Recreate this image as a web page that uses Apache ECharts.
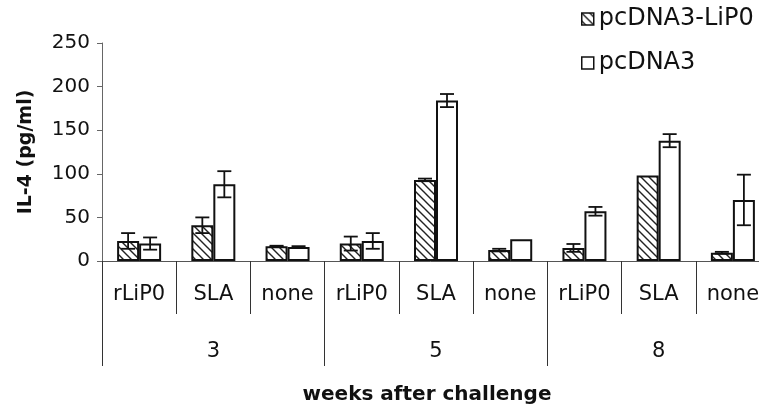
<!DOCTYPE html>
<html>
<head>
<meta charset="utf-8">
<script src="https://cdn.jsdelivr.net/npm/echarts@6/dist/echarts.min.js"></script>
<style>
html,body{margin:0;padding:0;background:#fff;overflow:hidden;}
#chart{width:759px;height:408px;}
</style>
</head>
<body>
<div id="chart"></div>
<script>
// ---- data ----
const subCategories = ['rLiP0', 'SLA', 'none', 'rLiP0', 'SLA', 'none', 'rLiP0', 'SLA', 'none'];
const weekLabels = ['3', '5', '8'];
const seriesNames = ['pcDNA3-LiP0', 'pcDNA3'];
const liP0Values = [23, 41, 17, 20, 93, 12.5, 15, 98, 9.5];
const liP0Errors = [9, 9, 0.5, 8, 1.5, 1.5, 4.5, 0, 1];
const pcValues = [20, 88, 16, 23, 184, 25, 57, 138, 70];
const pcErrors = [7, 15, 1, 9, 7.5, 0, 5, 7.5, 29];
const yMin = 0, yMax = 250, yStep = 50;

// ---- styling ----
const FONT = 'DejaVu Sans';
const INK = '#111';
const BAR_W = 22;

function hatchPattern() {
  const s = 8;
  const c = document.createElement('canvas');
  c.width = s; c.height = s;
  const g = c.getContext('2d');
  g.fillStyle = '#fff';
  g.fillRect(0, 0, s, s);
  g.strokeStyle = '#222';
  g.lineWidth = 1.4;
  g.beginPath();
  g.moveTo(-1, -1); g.lineTo(s + 1, s + 1);
  g.moveTo(-s - 1, -1); g.lineTo(1, s + 1);
  g.moveTo(s - 1, -1); g.lineTo(2 * s + 1, s + 1);
  g.stroke();
  return c;
}
const hatchFill = { image: hatchPattern(), repeat: 'repeat' };

function errData(vals, errs) {
  return vals.map((v, i) => [i, v, errs[i]]);
}
function errRenderer(sign) {
  return function (params, api) {
    const i = api.value(0), v = api.value(1), e = api.value(2);
    if (!e) return null;
    const top = api.coord([i, v + e]);
    const bot = api.coord([i, v - e]);
    const x = top[0] + sign * BAR_W / 2;
    const cap = 7;
    const st = { stroke: INK, lineWidth: 1.8 };
    return {
      type: 'group',
      children: [
        { type: 'line', shape: { x1: x, y1: top[1], x2: x, y2: bot[1] }, style: st },
        { type: 'line', shape: { x1: x - cap, y1: top[1], x2: x + cap, y2: top[1] }, style: st },
        { type: 'line', shape: { x1: x - cap, y1: bot[1], x2: x + cap, y2: bot[1] }, style: st }
      ]
    };
  };
}

const chart = echarts.init(document.getElementById('chart'), null, { renderer: 'canvas' });
chart.setOption({
  animation: false,
  backgroundColor: '#fff',
  textStyle: { fontFamily: FONT, color: INK },
  grid: { left: 102, top: 43, width: 668, height: 218, outerBoundsMode: 'none', containLabel: false },
  legend: {
    orient: 'vertical',
    left: 581,
    top: 7,
    padding: 0,
    itemWidth: 12,
    itemHeight: 12,
    itemGap: 20,
    icon: 'rect',
    textStyle: { fontFamily: FONT, fontSize: 24, color: INK },
    data: [
      { name: seriesNames[0], itemStyle: { color: hatchFill, borderColor: INK, borderWidth: 1.5 } },
      { name: seriesNames[1], itemStyle: { color: '#fff', borderColor: INK, borderWidth: 1.5 } }
    ]
  },
  xAxis: [
    {
      type: 'category',
      data: subCategories,
      position: 'bottom',
      axisLine: { show: true, lineStyle: { color: '#555', width: 1 } },
      axisTick: { show: true, interval: 0, length: 53, lineStyle: { color: '#333', width: 1 } },
      axisLabel: { interval: 0, margin: 23, fontFamily: FONT, fontSize: 21, color: INK }
    },
    {
      type: 'category',
      data: weekLabels,
      position: 'bottom',
      axisLine: { show: false },
      axisTick: { show: true, interval: 0, length: 105, lineStyle: { color: '#333', width: 1 } },
      axisLabel: { interval: 0, margin: 80, fontFamily: FONT, fontSize: 21, color: INK },
      name: 'weeks after challenge',
      nameLocation: 'middle',
      nameGap: 124,
      nameTextStyle: { fontFamily: FONT, fontSize: 20, fontWeight: 'bold', color: INK, padding: [0, 18, 0, 0] }
    }
  ],
  yAxis: {
    type: 'value',
    min: yMin,
    max: yMax,
    interval: yStep,
    axisLine: { show: true, lineStyle: { color: '#666', width: 1 } },
    axisTick: { show: true, length: 5, lineStyle: { color: '#666' } },
    axisLabel: { margin: 12, fontFamily: FONT, fontSize: 20, color: INK },
    splitLine: { show: false },
    name: 'IL-4 (pg/ml)',
    nameLocation: 'middle',
    nameGap: 66,
    nameTextStyle: { fontFamily: FONT, fontSize: 19, fontWeight: 'bold', color: INK }
  },
  series: [
    {
      name: seriesNames[0],
      type: 'bar',
      data: liP0Values,
      barWidth: BAR_W,
      barGap: '0%',
      itemStyle: { color: hatchFill, borderColor: INK, borderWidth: 2 },
      z: 2
    },
    {
      name: seriesNames[1],
      type: 'bar',
      data: pcValues,
      barWidth: BAR_W,
      barGap: '0%',
      itemStyle: { color: '#fff', borderColor: INK, borderWidth: 2 },
      z: 2
    },
    {
      name: 'err-' + seriesNames[0],
      type: 'custom',
      data: errData(liP0Values, liP0Errors),
      encode: { x: 0, y: 1 },
      renderItem: errRenderer(-1),
      z: 5
    },
    {
      name: 'err-' + seriesNames[1],
      type: 'custom',
      data: errData(pcValues, pcErrors),
      encode: { x: 0, y: 1 },
      renderItem: errRenderer(1),
      z: 5
    }
  ]
});
</script>
</body>
</html>
